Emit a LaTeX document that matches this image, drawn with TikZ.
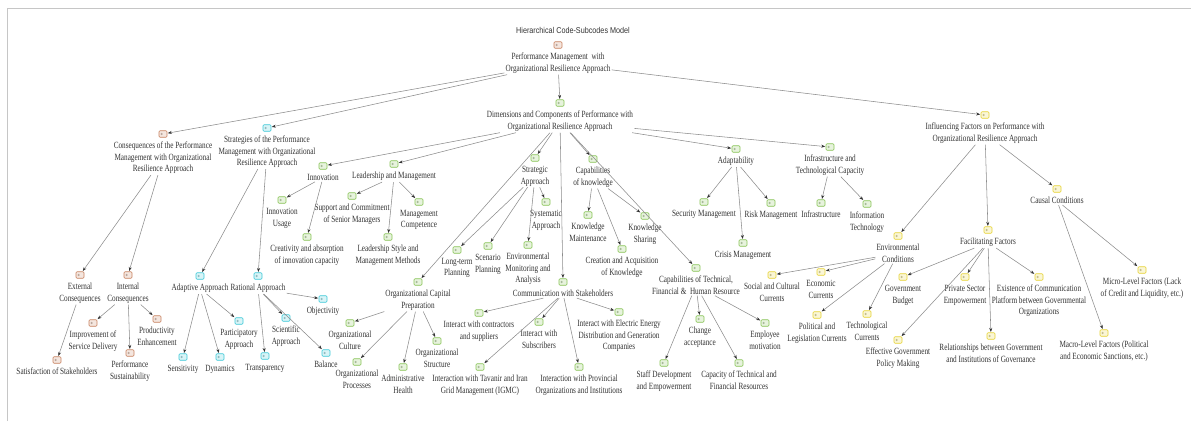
\documentclass[tikz,border=0pt]{standalone}
\usepackage{fontspec}
\setmainfont[FakeStretch=0.76]{Liberation Serif}
\newfontfamily\titlefont[FakeStretch=0.85]{Liberation Sans}
\usetikzlibrary{arrows.meta,positioning}
\definecolor{consbrown}{RGB}{200,130,95}
\definecolor{stratcyan}{RGB}{60,200,215}
\definecolor{dimgreen}{RGB}{135,195,85}
\definecolor{inflyellow}{RGB}{230,210,50}
\definecolor{inkgray}{RGB}{50,50,50}
\definecolor{linkgray}{RGB}{140,140,140}
\tikzset{
  codeicon/.style={draw=#1, fill=#1!20, rounded corners=1pt, line width=0.6pt,
    minimum width=8pt, minimum height=6.5pt, inner sep=0pt,
    path picture={\fill[#1!60!black!50] ([xshift=1.6pt,yshift=-1.2pt]path picture bounding box.west) rectangle ++(2pt,2.4pt);}},
  codetext/.style={align=center, inner sep=1pt, text=inkgray, font=\fontsize{9.5}{11.5}\selectfont},
  link/.style={draw=linkgray, line width=0.55pt, shorten >=0.5pt, -{Stealth[length=4pt,width=3pt,color=inkgray]}},
}
\newcommand{\codenode}[4]{%
  \node[codeicon=#3] (#1) at (#2) {};
  \node[codetext,below=3.5pt of #1] (#1-t) {#4};}

\begin{document}
\begin{tikzpicture}[x=1pt,y=-1pt]
  \useasboundingbox (0,0) rectangle (1191,421);
  % frame
  \draw[gray!45, line width=0.8pt] (7,421) -- (7,8) -- (1191,8);
  \node[text=inkgray, font=\titlefont\fontsize{8.5}{10}\selectfont] (title) at (573,30) {Hierarchical Code-Subcodes Model};

  % --- top level ---
  \codenode{root}{558,45}{consbrown}{Performance Management\ \ with\\Organizational Resilience Approach}
  \codenode{dim}{560,103}{dimgreen}{Dimensions and Components of Performance with\\Organizational Resilience Approach}
  \codenode{cons}{163,134}{consbrown}{Consequences of the Performance\\Management with Organizational\\Resilience Approach}
  \codenode{strat}{267,128}{stratcyan}{Strategies of the Performance\\Management with Organizational\\Resilience Approach}
  \codenode{infl}{985,115}{inflyellow}{Influencing Factors on Performance with\\Organizational Resilience Approach}

  % --- consequences ---
  \codenode{ext}{80,275}{consbrown}{External\\Consequences}
  \codenode{int}{128,275}{consbrown}{Internal\\Consequences}
  \codenode{sat}{57,360}{consbrown}{Satisfaction of Stakeholders}
  \codenode{impr}{93,323}{consbrown}{Improvement of\\Service Delivery}
  \codenode{perf}{130,353}{consbrown}{Performance\\Sustainability}
  \codenode{prod}{157,319}{consbrown}{Productivity\\Enhancement}

  % --- strategies ---
  \codenode{adapt}{200,276}{stratcyan}{Adaptive Approach}
  \codenode{rat}{258,276}{stratcyan}{Rational Approach}
  \codenode{sens}{183,357}{stratcyan}{Sensitivity}
  \codenode{dyn}{220,357}{stratcyan}{Dynamics}
  \codenode{part}{239,321}{stratcyan}{Participatory\\Approach}
  \codenode{transp}{265,356}{stratcyan}{Transparency}
  \codenode{sci}{286,318}{stratcyan}{Scientific\\Approach}
  \codenode{obj}{323,299}{stratcyan}{Objectivity}
  \codenode{bal}{326,353}{stratcyan}{Balance}

  % --- dimensions ---
  \codenode{innov}{323,166}{dimgreen}{Innovation}
  \codenode{lead}{394,164}{dimgreen}{Leadership and Management}
  \codenode{orgcap}{418,282}{dimgreen}{Organizational Capital\\Preparation}
  \codenode{stratapp}{535,158}{dimgreen}{Strategic\\Approach}
  \codenode{comm}{563,282}{dimgreen}{Communication with Stakeholders}
  \codenode{capk}{593,159}{dimgreen}{Capabilities\\of knowledge}
  \codenode{capt}{696,268}{dimgreen}{Capabilities of Technical,\\Financial \&\ \ Human Resource}
  \codenode{adapty}{736,149}{dimgreen}{Adaptability}
  \codenode{infra}{830,147}{dimgreen}{Infrastructure and\\Technological Capacity}

  \codenode{iusage}{282,200}{dimgreen}{Innovation\\Usage}
  \codenode{creat}{307,237}{dimgreen}{Creativity and absorption\\of innovation capacity}
  \codenode{supp}{352,196}{dimgreen}{Support and Commitment\\of Senior Managers}
  \codenode{lstyle}{388,237}{dimgreen}{Leadership Style and\\Management Methods}
  \codenode{mcomp}{419,202}{dimgreen}{Management\\Competence}

  \codenode{oculture}{350,323}{dimgreen}{Organizational\\Culture}
  \codenode{oproc}{357,362}{dimgreen}{Organizational\\Processes}
  \codenode{ahealth}{403,367}{dimgreen}{Administrative\\Health}
  \codenode{ostruct}{437,341}{dimgreen}{Organizational\\Structure}

  \codenode{lterm}{457,250}{dimgreen}{Long-term\\Planning}
  \codenode{scen}{488,246}{dimgreen}{Scenario\\Planning}
  \codenode{envmon}{528,245}{dimgreen}{Environmental\\Monitoring and\\Analysis}
  \codenode{syst}{546,202}{dimgreen}{Systematic\\Approach}

  \codenode{kmaint}{588,215}{dimgreen}{Knowledge\\Maintenance}
  \codenode{kshare}{645,216}{dimgreen}{Knowledge\\Sharing}
  \codenode{kcreat}{622,249}{dimgreen}{Creation and Acquisition\\of Knowledge}

  \codenode{icontr}{479,313}{dimgreen}{Interact with contractors\\and suppliers}
  \codenode{isubs}{539,322}{dimgreen}{Interact with\\Subscribers}
  \codenode{ielec}{619,312}{dimgreen}{Interact with Electric Energy\\Distribution and Generation\\Companies}
  \codenode{itav}{480,367}{dimgreen}{Interaction with Tavanir and Iran\\Grid Management (IGMC)}
  \codenode{iprov}{579,367}{dimgreen}{Interaction with Provincial\\Organizations and Institutions}

  \codenode{staff}{664,363}{dimgreen}{Staff Development\\and Empowerment}
  \codenode{change}{700,319}{dimgreen}{Change\\acceptance}
  \codenode{capres}{739,363}{dimgreen}{Capacity of Technical and\\Financial Resources}
  \codenode{emot}{765,323}{dimgreen}{Employee\\motivation}

  \codenode{secm}{704,202}{dimgreen}{Security Management}
  \codenode{riskm}{771,203}{dimgreen}{Risk Management}
  \codenode{crism}{743,243}{dimgreen}{Crisis Management}
  \codenode{infr}{821,203}{dimgreen}{Infrastructure}
  \codenode{itech}{867,204}{dimgreen}{Information\\Technology}

  % --- influencing factors ---
  \codenode{envc}{898,236}{inflyellow}{Environmental\\Conditions}
  \codenode{facil}{988,230}{inflyellow}{Facilitating Factors}
  \codenode{causal}{1057,189}{inflyellow}{Causal Conditions}

  \codenode{social}{772,275}{inflyellow}{Social and Cultural\\Currents}
  \codenode{econ}{821,272}{inflyellow}{Economic\\Currents}
  \codenode{polit}{817,315}{inflyellow}{Political and\\Legislation Currents}
  \codenode{techc}{867,314}{inflyellow}{Technological\\Currents}

  \codenode{gbudget}{903,277}{inflyellow}{Government\\Budget}
  \codenode{private}{965,277}{inflyellow}{Private Sector\\Empowerment}
  \codenode{exist}{1039,277}{inflyellow}{Existence of Communication\\Platform between Governmental\\Organizations}
  \codenode{effect}{898,340}{inflyellow}{Effective Government\\Policy Making}
  \codenode{relat}{991,336}{inflyellow}{Relationships between Government\\and Institutions of Governance}

  \codenode{micro}{1142,270}{inflyellow}{Micro-Level Factors (Lack\\of Credit and Liquidity, etc.)}
  \codenode{macro}{1104,333}{inflyellow}{Macro-Level Factors (Political\\and Economic Sanctions, etc.)}

  % --- links ---
  \path (root-t) edge[link] (dim) edge[link] (cons) edge[link] (strat) edge[link] (infl);
  \path (cons-t) edge[link] (ext) edge[link] (int);
  \path (ext-t) edge[link] (sat);
  \path (int-t) edge[link] (impr) edge[link] (perf) edge[link] (prod);
  \path (strat-t) edge[link] (adapt) edge[link] (rat);
  \path (adapt-t) edge[link] (sens) edge[link] (dyn) edge[link] (part);
  \path (rat-t) edge[link] (transp) edge[link] (sci) edge[link] (obj) edge[link] (bal);
  \path (dim-t) edge[link] (innov) edge[link] (lead) edge[link] (orgcap)
    edge[link] (stratapp) edge[link] (comm) edge[link] (capk)
    edge[link] (capt) edge[link] (adapty) edge[link] (infra);
  \path (innov-t) edge[link] (iusage) edge[link] (creat);
  \path (lead-t) edge[link] (supp) edge[link] (lstyle) edge[link] (mcomp);
  \path (orgcap-t) edge[link] (oculture) edge[link] (oproc) edge[link] (ahealth) edge[link] (ostruct);
  \path (stratapp-t) edge[link] (lterm) edge[link] (scen) edge[link] (envmon) edge[link] (syst);
  \path (capk-t) edge[link] (kmaint) edge[link] (kcreat) edge[link] (kshare);
  \path (comm-t) edge[link] (icontr) edge[link] (isubs) edge[link] (ielec)
    edge[link] (itav) edge[link] (iprov);
  \path (capt-t) edge[link] (staff) edge[link] (change) edge[link] (capres) edge[link] (emot);
  \path (adapty-t) edge[link] (secm) edge[link] (riskm) edge[link] (crism);
  \path (infra-t) edge[link] (infr) edge[link] (itech);
  \path (infl-t) edge[link] (envc) edge[link] (facil) edge[link] (causal);
  \path (envc-t) edge[link] (social) edge[link] (econ) edge[link] (polit) edge[link] (techc);
  \path (facil-t) edge[link] (gbudget) edge[link] (private) edge[link] (exist)
    edge[link] (effect) edge[link] (relat);
  \path (causal-t) edge[link] (micro) edge[link] (macro);
\end{tikzpicture}
\end{document}
